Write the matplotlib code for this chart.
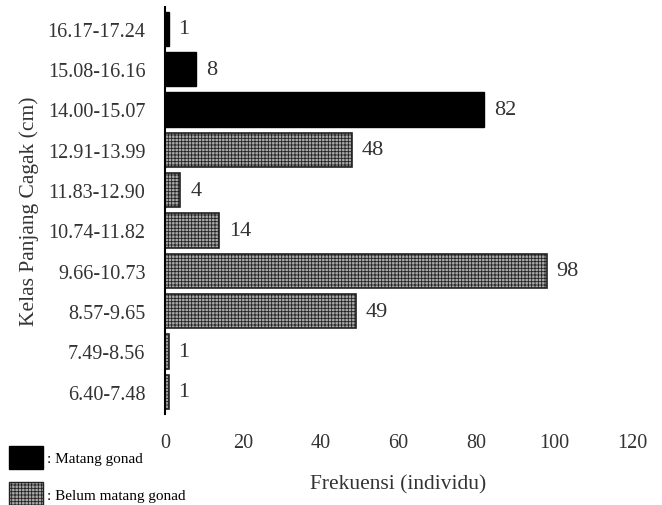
import matplotlib.pyplot as plt
from matplotlib.patches import Patch

# class intervals (bottom to top) and frequencies
classes = ["6.40-7.48", "7.49-8.56", "8.57-9.65", "9.66-10.73", "10.74-11.82",
           "11.83-12.90", "12.91-13.99", "14.00-15.07", "15.08-16.16", "16.17-17.24"]
freq = [1, 1, 49, 98, 14, 4, 48, 82, 8, 1]
mature = [False, False, False, False, False, False, False, True, True, True]

plt.rcParams['font.family'] = 'Liberation Serif'
plt.rcParams['hatch.linewidth'] = 0.6
plt.rcParams['hatch.color'] = '#555555'

fig = plt.figure(figsize=(6.62, 5.06), dpi=100)
ax = fig.add_axes([0.249, 0.18, 0.706, 0.805])

for i, (c, f, m) in enumerate(zip(classes, freq, mature)):
    if m:
        ax.barh(i, f, height=0.85, color='black', edgecolor='black')
    else:
        ax.barh(i, f, height=0.85, color='#a8a8a8', edgecolor='#222222',
                hatch='+++++', linewidth=1.2)
    ax.text(f + 2.5, i, str(f), va='center', ha='left', fontsize=16, color='#333333')

ax.set_yticks(range(len(classes)))
ax.set_yticklabels(classes, fontsize=14.5, color='#333333')
ax.set_xlim(0, 120)
ax.set_ylim(-0.55, len(classes) - 0.45)
ax.set_xticks(range(0, 121, 20))
ax.tick_params(axis='x', labelsize=14.5, length=0, pad=14, labelcolor='#333333')
ax.tick_params(axis='y', length=0, pad=14)
for s in ['top', 'right', 'bottom']:
    ax.spines[s].set_visible(False)
ax.spines['left'].set_linewidth(1.5)

ax.set_xlabel("Frekuensi (individu)", fontsize=15.5, color='#333333', labelpad=16)
ax.set_ylabel("Kelas Panjang Cagak (cm)", fontsize=15.5, color='#333333', labelpad=6)

handles = [Patch(facecolor='black', edgecolor='black', label=': Matang gonad'),
           Patch(facecolor='#a8a8a8', edgecolor='#222222', hatch='+++++', label=': Belum matang gonad')]
fig.legend(handles=handles, loc='lower left', bbox_to_anchor=(0.0, -0.018), frameon=False,
           fontsize=11, handlelength=2.2, handleheight=1.9, labelspacing=0.9,
           handletextpad=0.3, borderaxespad=0.2)

fig.savefig('out.png', dpi=100)
